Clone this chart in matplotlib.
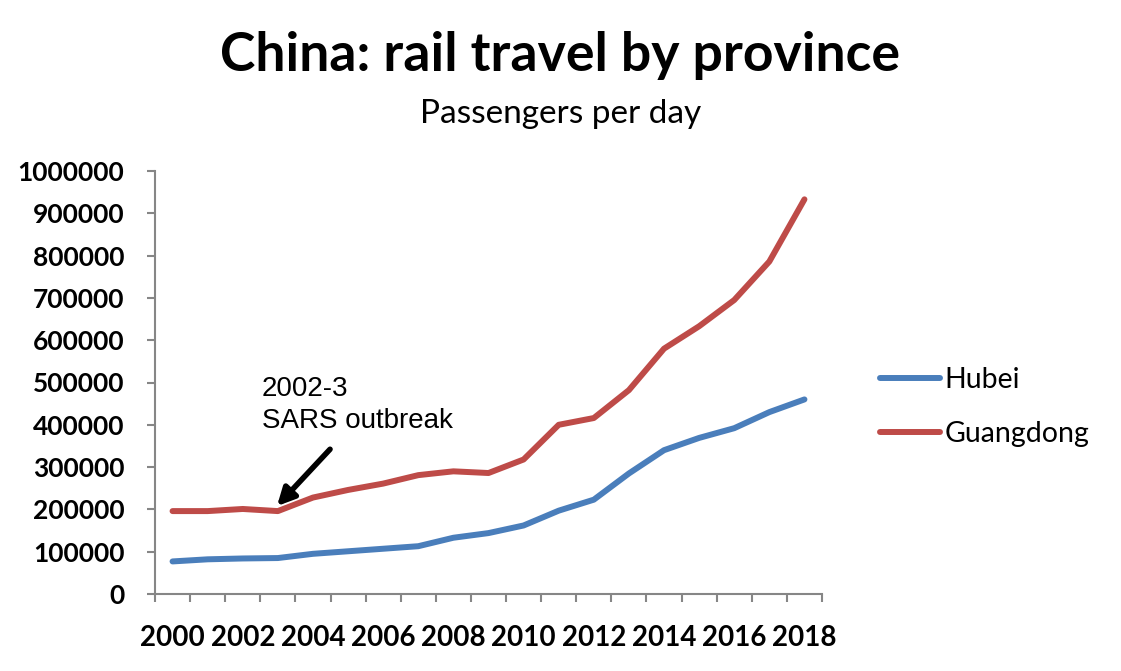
import matplotlib.pyplot as plt
import numpy as np

years = list(range(2000, 2019))
hubei = [77000, 82000, 84000, 85000, 95000, 101000, 107000, 113000, 133000, 144000,
         162000, 197000, 223000, 285000, 340000, 369000, 392000, 430000, 460000]
guangdong = [196000, 196000, 201000, 196000, 228000, 246000, 261000, 281000, 290000, 286000,
             318000, 400000, 416000, 482000, 580000, 633000, 695000, 786000, 933000]
year_labels = [str(y) for y in years[::2]]

blue = '#4A7EBB'
red = '#BE4B48'
grey = '#868686'

fig = plt.figure(figsize=(11.21, 6.71), dpi=100)
ax = fig.add_axes([155 / 1121, 1 - 594 / 671, 667 / 1121, 423 / 671])

x = np.arange(len(years))
ax.plot(x, hubei, color=blue, lw=4.3, label='Hubei', solid_capstyle='round')
ax.plot(x, guangdong, color=red, lw=4.3, label='Guangdong', solid_capstyle='round')

ax.set_xlim(-0.5, len(years) - 0.5)
ax.set_ylim(0, 1000000)

for s in ['top', 'right']:
    ax.spines[s].set_visible(False)
for s in ['left', 'bottom']:
    ax.spines[s].set_color(grey)
    ax.spines[s].set_linewidth(1.5)

# tick marks on category boundaries, labels at category centres
ax.set_xticks(np.arange(-0.5, len(years), 1.0))
ax.set_xticklabels([])
ax.set_xticks(x[::2], minor=True)
ax.set_xticklabels(year_labels, minor=True)
ax.tick_params(axis='x', which='major', direction='out', length=6, width=1.5, color=grey)
ax.tick_params(axis='x', which='minor', length=0, pad=22, labelsize=20)

ax.set_yticks(np.arange(0, 1000001, 100000))
ax.set_yticklabels([str(v) for v in range(0, 1000001, 100000)])
ax.tick_params(axis='y', direction='out', length=6, width=1.5, color=grey, pad=16, labelsize=19)

for lab in ax.get_xticklabels(minor=True) + ax.get_yticklabels():
    lab.set_fontweight('bold')
    lab.set_family('Lato')

fig.text(0.5, 1 - 55 / 671, 'China: rail travel by province', ha='center', va='center',
         fontsize=38.5, fontweight='bold', family='Lato')
fig.text(0.5, 1 - 114 / 671, 'Passengers per day', ha='center', va='center',
         fontsize=24, family='Lato')

ax.text(2.55, 447000, '2002-3\nSARS outbreak', ha='left', va='center', fontsize=20,
        family='Liberation Sans', linespacing=1.3)
ax.annotate('', xy=(2.92, 203000), xytext=(4.54, 347000),
            arrowprops=dict(arrowstyle='-|>', color='black', lw=4, mutation_scale=26))

leg = ax.legend(loc='center left', bbox_to_anchor=(1.049, 0.442), frameon=False,
                handlelength=2.1, handletextpad=0.15, labelspacing=1.0,
                prop={'family': 'Lato', 'size': 20.5})

fig.savefig('out.png', dpi=100)
